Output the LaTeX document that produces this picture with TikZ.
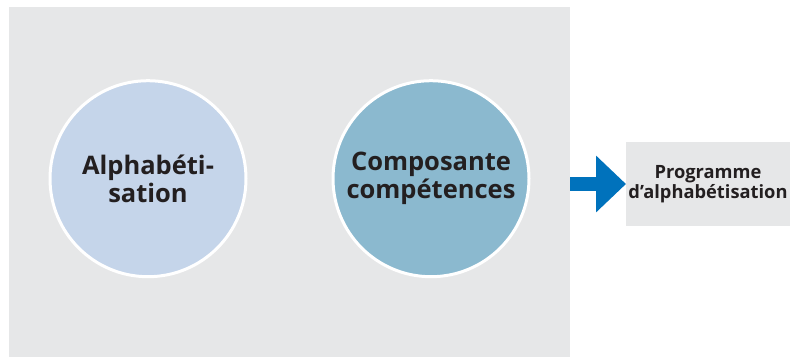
\documentclass[tikz,border=0pt]{standalone}
\usepackage{fontspec}
\setsansfont{Open Sans}
\usetikzlibrary{arrows.meta}
\definecolor{panelgray}{RGB}{230, 231, 232}
\definecolor{paleblue}{RGB}{197, 213, 234}
\definecolor{midblue}{RGB}{139, 185, 207}
\definecolor{arrowblue}{RGB}{0, 114, 188}
\definecolor{textblack}{RGB}{35, 31, 32}
\tikzset{
  panel/.style = {fill = panelgray, inner sep = 0pt, outer sep = 0pt},
  bubble/.style = {circle, draw = white, line width = 3pt, minimum size = 196pt, inner sep = 0pt, align = center, text = textblack, font = \sffamily\bfseries\fontsize{25.5}{28}\selectfont},
  progbox/.style = {fill = panelgray, inner sep = 0pt, outer sep = 0pt, minimum width = 164pt, minimum height = 84pt, align = center, text = textblack, font = \sffamily\bfseries\fontsize{18.3}{18}\selectfont},
  bigarrow/.style = {arrowblue, line width = 14pt, -{Triangle[length = 30pt, width = 55pt]}}
}

\begin{document}
\begin{tikzpicture}[x = 1pt, y = -1pt]
\useasboundingbox (0,0) rectangle (790,357);

\node[panel, minimum width = 561pt, minimum height = 350pt] (panel) at (289.5,182) {};

\node[bubble, fill = paleblue] (alpha) at (148,178.7) {Alphabéti-\\sation};
\node[bubble, fill = midblue] (comp) at (431,178.7) {Composante\\compétences};

\node[progbox] (prog) at (708,184) {Programme\\d’alphabétisation};

\draw[bigarrow] (panel.east |- prog.west) -- (prog.west);

\end{tikzpicture}
\end{document}
